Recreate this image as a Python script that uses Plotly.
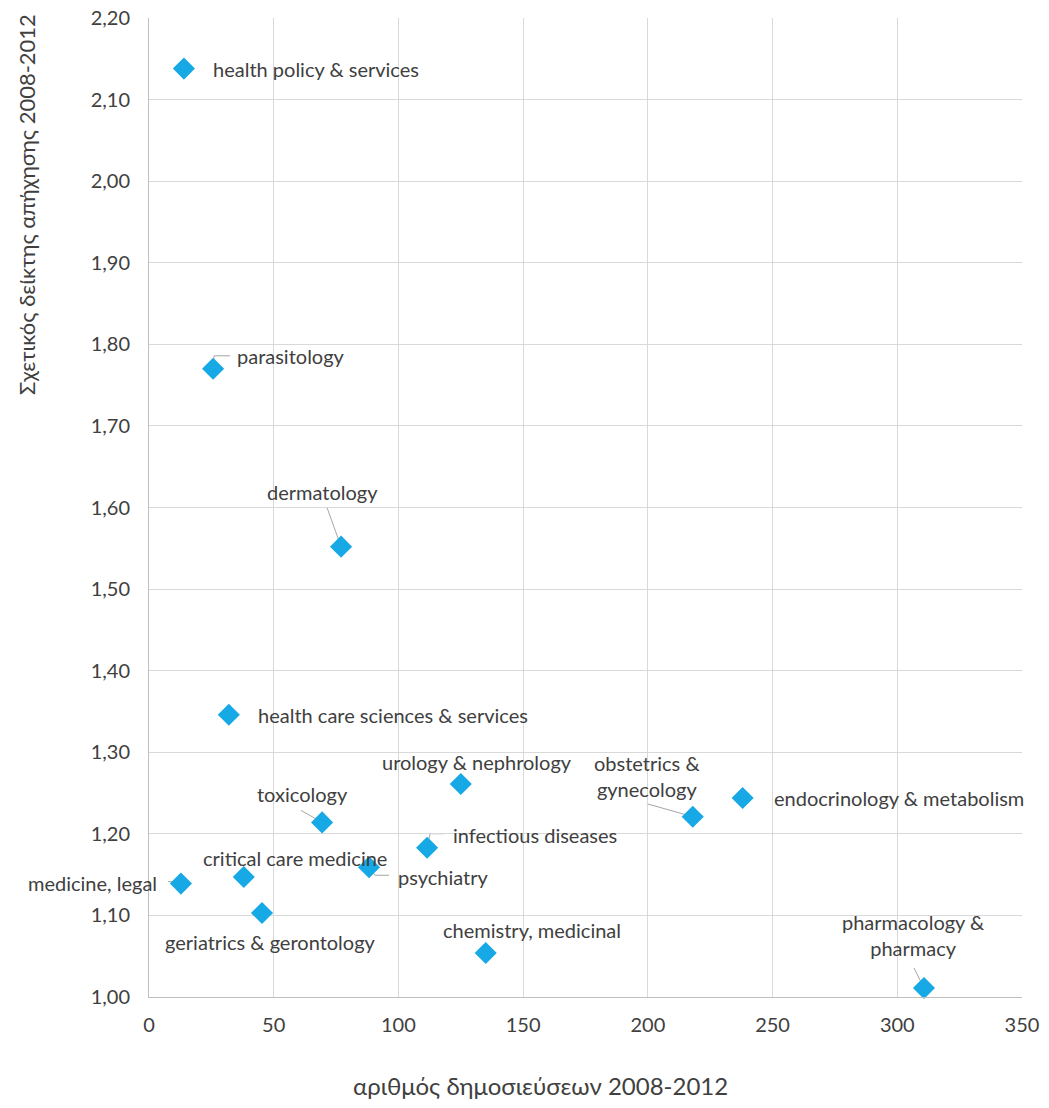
import plotly.graph_objects as go

categories = [
    "health policy & services", "parasitology", "dermatology",
    "health care sciences & services", "urology & nephrology",
    "obstetrics &<br>gynecology", "endocrinology & metabolism", "toxicology",
    "infectious diseases", "psychiatry", "critical care medicine",
    "medicine, legal", "geriatrics & gerontology", "chemistry, medicinal",
    "pharmacology &<br>pharmacy",
]
publications = [14, 25.7, 77, 32, 125, 218, 238, 69.4, 111.5, 88.2, 38, 12.8, 45.3, 135, 310.7]
impact = [2.138, 1.770, 1.552, 1.346, 1.261, 1.221, 1.244, 1.214, 1.183, 1.159, 1.147, 1.139, 1.103, 1.054, 1.011]

x_ticks = [0, 50, 100, 150, 200, 250, 300, 350]
y_ticks = [1.0, 1.1, 1.2, 1.3, 1.4, 1.5, 1.6, 1.7, 1.8, 1.9, 2.0, 2.1, 2.2]
x_title = "αριθμός δημοσιεύσεων 2008-2012"
y_title = "Σχετικός δείκτης απήχησης 2008-2012"

# label styling: (xanchor, dx px, dy px (screen, down positive), leader path in px (up positive) or None)
label_style = [
    ("left", 27, 0, None),
    ("left", 22, -13, "M0,2 L1,13 L17,13"),
    ("center", -19, -55, "M0,0 L-14,39"),
    ("left", 27, 0, None),
    ("center", 16, -22, None),
    ("center", -46, -41, "M0,0 L-46,13"),
    ("left", 29, 0, None),
    ("center", -20, -28, "M0,0 L-21,12"),
    ("left", 24, -13, "M0,1 L3,14 L17,14"),
    ("left", 27, 10, "M0,0 L6,-8 L20,-8"),
    ("center", 51, -19, None),
    ("right", -22, -1, "M0,0 L-2,2 L-13,2"),
    ("center", 9, 29, None),
    ("center", 46, -23, None),
    ("center", -10, -53, "M0,0 L-10,20"),
]

FONT = "Lato"
TXT = "#404040"
marker_color = "#17A8E6"

W, H = 1049, 1108
ML, MT, MR, MB = 149, 18, 1049 - 1022, 1108 - 997
PW, PH = 1022 - 149, 997 - 18

fig = go.Figure()
fig.add_trace(go.Scatter(
    x=publications, y=impact, mode="markers",
    marker=dict(symbol="diamond", size=17, color=marker_color, line=dict(width=0)),
    showlegend=False, hoverinfo="skip", cliponaxis=False,
))

annotations = []
shapes = []
for name, xv, yv, (xa, dx, dy, path) in zip(categories, publications, impact, label_style):
    annotations.append(dict(
        x=xv, y=yv, xref="x", yref="y", text=name, showarrow=False,
        xanchor=xa, yanchor="middle", xshift=dx, yshift=-dy,
        font=dict(family=FONT, size=20, color=TXT), align="center",
    ))
    if path:
        shapes.append(dict(
            type="path", xref="x", yref="y", xsizemode="pixel", ysizemode="pixel",
            xanchor=xv, yanchor=yv, path=path,
            line=dict(color="#A6A6A6", width=1), layer="below",
        ))

# axis titles
annotations.append(dict(
    text=x_title, xref="paper", yref="paper", x=(540 - 149) / PW, y=-(1085 - 997) / PH,
    xanchor="center", yanchor="middle", showarrow=False,
    font=dict(family=FONT, size=24, color=TXT),
))
annotations.append(dict(
    text=y_title, xref="paper", yref="paper", x=-(149 - 26) / PW, y=(997 - 205) / PH,
    xanchor="center", yanchor="middle", showarrow=False, textangle=-90,
    font=dict(family=FONT, size=22, color=TXT),
))

fig.update_layout(
    width=W, height=H,
    margin=dict(l=ML, r=MR, t=MT, b=MB, autoexpand=False),
    paper_bgcolor="white", plot_bgcolor="white",
    annotations=annotations, shapes=shapes,
    font=dict(family=FONT, size=20, color=TXT),
    xaxis=dict(
        range=[0, 350], tickvals=x_ticks, ticktext=[str(v) for v in x_ticks],
        showgrid=True, gridcolor="#D9D9D9", gridwidth=1,
        showline=True, linecolor="#BFBFBF", linewidth=1,
        zeroline=False, ticks="outside", ticklen=10, tickcolor="rgba(0,0,0,0)",
        automargin=False, ticklabeloverflow="allow",
        tickfont=dict(family=FONT, size=20, color=TXT),
    ),
    yaxis=dict(
        range=[1.0, 2.2], tickvals=y_ticks,
        ticktext=[f"{v:.2f}".replace(".", ",") for v in y_ticks],
        showgrid=True, gridcolor="#D9D9D9", gridwidth=1,
        showline=True, linecolor="#BFBFBF", linewidth=1,
        zeroline=False, ticks="outside", ticklen=14, tickcolor="rgba(0,0,0,0)",
        automargin=False, ticklabeloverflow="allow",
        tickfont=dict(family=FONT, size=20, color=TXT),
    ),
)

fig.write_html(
    "out.html",
    config={"displayModeBar": False},
    post_script="document.body.style.margin='0';document.body.style.overflow='hidden';",
)
